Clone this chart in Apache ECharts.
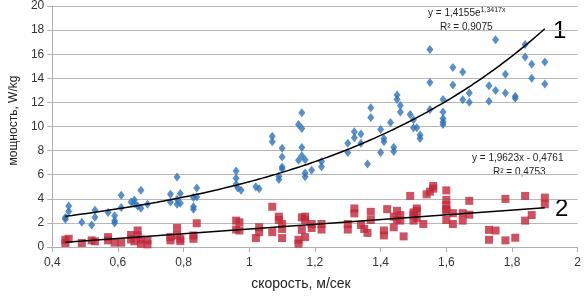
<!DOCTYPE html>
<html>
<head>
<meta charset="utf-8">
<script src="https://cdn.jsdelivr.net/npm/echarts@6/dist/echarts.min.js"></script>
<style>
  html, body { margin: 0; padding: 0; background: #fff; }
  #chart { width: 584px; height: 296px; }
</style>
</head>
<body>
<div id="chart"></div>
<script>
// series 1 (blue diamonds)
var blueX = [0.44, 0.44, 0.45, 0.45, 0.49, 0.52, 0.53, 0.53, 0.57, 0.59, 0.59, 0.59, 0.61, 0.61, 0.64, 0.65, 0.65, 0.66, 0.67, 0.67,
  0.69, 0.76, 0.76, 0.78, 0.78, 0.78, 0.79, 0.79, 0.83, 0.83, 0.83, 0.84, 0.84, 0.96, 0.96, 0.96, 0.965, 0.975, 1.02, 1.03,
  1.07, 1.07, 1.09, 1.09, 1.10, 1.10, 1.10, 1.10, 1.15, 1.16, 1.16, 1.16, 1.16, 1.15, 1.17, 1.17, 1.17, 1.19, 1.22, 1.22,
  1.30, 1.30, 1.32, 1.32, 1.34, 1.34, 1.36, 1.37, 1.37, 1.40, 1.40, 1.41, 1.41, 1.43, 1.44, 1.44, 1.45, 1.45, 1.46, 1.46,
  1.49, 1.50, 1.50, 1.51, 1.52, 1.52, 1.55, 1.55, 1.55, 1.59, 1.59, 1.59, 1.59, 1.59, 1.62, 1.62, 1.65, 1.65, 1.67, 1.67,
  1.73, 1.73, 1.75, 1.75, 1.78, 1.78, 1.81, 1.81, 1.84, 1.84, 1.86, 1.86, 1.90, 1.90];
var blueY = [2.45, 2.3, 2.95, 3.4, 2.05, 1.83, 2.46, 3.06, 2.87, 2.6, 2.18, 2.0, 3.28, 4.3, 3.74, 3.9, 3.6, 3.4, 4.7, 3.22,
  3.55, 4.37, 3.74, 5.8, 3.96, 3.55, 4.45, 3.63, 4.1, 3.33, 3.14, 4.9, 4.15, 6.3, 5.7, 5.2, 4.9, 4.7, 5.0, 4.84,
  9.2, 8.74, 5.87, 5.6, 8.2, 7.46, 6.64, 6.48, 10.16, 11.15, 9.84, 8.25, 7.57, 7.19, 7.24, 6.15, 5.82, 6.37, 7.1, 6.67,
  8.6, 7.84, 9.56, 9.07, 9.37, 8.6, 6.89, 11.56, 10.74, 9.75, 7.84, 9.0, 8.74, 10.33, 8.28, 7.92, 12.62, 12.24, 11.75, 11.2,
  11.0, 10.57, 9.89, 9.89, 9.3, 9.0, 16.4, 13.66, 11.42, 12.24, 11.2, 10.66, 10.38, 10.16, 14.9, 13.44, 14.53, 12.21, 12.79, 12.02,
  13.39, 12.1, 17.2, 12.98, 14.34, 12.79, 12.51, 12.35, 16.8, 15.76, 15.16, 14.0, 15.35, 13.52];

// series 2 (red squares)
var redX = [0.44, 0.44, 0.45, 0.49, 0.52, 0.53, 0.57, 0.57, 0.59, 0.61, 0.64, 0.64, 0.65, 0.66, 0.66, 0.67, 0.67, 0.69, 0.69, 0.76,
  0.76, 0.78, 0.78, 0.79, 0.79, 0.83, 0.83, 0.84, 0.96, 0.97, 0.96, 0.97, 1.03, 1.02, 1.03, 1.07, 1.07, 1.09, 1.09, 1.10,
  1.10, 1.10, 1.15, 1.15, 1.16, 1.17, 1.16, 1.17, 1.17, 1.19, 1.19, 1.22, 1.22, 1.30, 1.30, 1.32, 1.32, 1.34, 1.35, 1.36,
  1.37, 1.37, 1.41, 1.41, 1.42, 1.44, 1.44, 1.45, 1.45, 1.46, 1.46, 1.47, 1.49, 1.50, 1.50, 1.51, 1.51, 1.50, 1.51, 1.53,
  1.54, 1.55, 1.56, 1.56, 1.60, 1.60, 1.60, 1.60, 1.60, 1.60, 1.62, 1.62, 1.65, 1.65, 1.67, 1.67, 1.73, 1.73, 1.75, 1.78,
  1.78, 1.81, 1.84, 1.84, 1.86, 1.90, 1.90];
var redY = [0.33, 0.6, 0.68, 0.33, 0.55, 0.47, 0.82, 0.55, 0.36, 0.36, 1.0, 0.63, 0.47, 1.37, 0.96, 0.63, 0.27, 0.55, 0.22, 0.82,
  0.55, 1.58, 0.96, 0.49, 0.68, 0.68, 0.96, 1.97, 2.19, 2.05, 1.45, 1.37, 1.64, 0.74, 1.23, 3.34, 1.23, 2.52, 2.24, 1.91,
  1.5, 0.74, 0.6, 0.27, 2.46, 2.52, 1.42, 0.82, 2.24, 1.91, 1.58, 1.91, 1.45, 1.91, 1.45, 3.2, 2.79, 1.83, 1.5, 1.17,
  2.92, 2.24, 1.37, 0.96, 3.14, 1.64, 2.52, 2.27, 3.0, 2.65, 2.19, 0.88, 4.24, 2.87, 2.65, 3.0, 3.2, 2.19, 2.38, 1.91,
  4.37, 4.59, 5.06, 4.84, 4.7, 3.91, 3.47, 3.14, 3.0, 2.24, 2.81, 1.91, 2.81, 2.19, 3.83, 2.68, 1.42, 0.6, 1.37, 3.99,
  0.55, 0.77, 4.24, 2.19, 2.65, 4.1, 3.55];

// trend lines from the equations printed on the chart
var expA = 1.4155, expB = 1.3417;
var linA = 1.9623, linB = -0.4761;
var trendFrom = 0.44, trendTo = 1.9;

var yTicks = { min: 0, max: 20, interval: 2 };
var xTicks = { min: 0.4, max: 2, interval: 0.2 };

function pairs(xs, ys) {
  var out = [];
  for (var i = 0; i < xs.length; i++) out.push([xs[i], ys[i]]);
  return out;
}

var expLine = [];
for (var k = 0; k <= 73; k++) {
  var xv = trendFrom + (trendTo - trendFrom) * k / 73;
  expLine.push([xv, expA * Math.exp(expB * xv)]);
}
var linLine = [[trendFrom, linA * trendFrom + linB], [trendTo, linA * trendTo + linB]];

var font = 'Liberation Sans, Arial, sans-serif';
var chart = echarts.init(document.getElementById('chart'));
var option = {
  animation: false,
  textStyle: { fontFamily: font },
  grid: { left: 41, right: 6, top: 6, bottom: 46 },
  xAxis: {
    type: 'value',
    min: xTicks.min, max: xTicks.max, interval: xTicks.interval,
    name: 'скорость, м/сек',
    nameLocation: 'middle',
    nameGap: 30,
    nameTextStyle: { fontSize: 14, color: '#222', padding: [0, 28, 0, 0] },
    axisLine: { lineStyle: { color: '#b0b0b0' } },
    axisTick: { show: true, length: 5, lineStyle: { color: '#b0b0b0' } },
    axisLabel: {
      fontSize: 12, color: '#333', margin: 10,
      formatter: function (v) { return String(Math.round(v * 10) / 10).replace('.', ','); }
    },
    splitLine: { show: false }
  },
  yAxis: {
    type: 'value',
    min: yTicks.min, max: yTicks.max, interval: yTicks.interval,
    name: 'мощность, W/kg',
    nameLocation: 'middle',
    nameGap: 26,
    nameTextStyle: { fontSize: 12, color: '#222', padding: [0, 0, 0, 12] },
    axisLine: { show: true, lineStyle: { color: '#b0b0b0' } },
    axisTick: { show: true, length: 5, lineStyle: { color: '#b0b0b0' } },
    axisLabel: { fontSize: 12, color: '#333', margin: 8 },
    splitLine: { lineStyle: { color: '#b8b8b8', width: 1 } }
  },
  series: [
    {
      name: '1',
      type: 'scatter',
      symbol: 'diamond',
      symbolSize: [7, 9],
      itemStyle: { color: '#2f72b8' },
      data: pairs(blueX, blueY)
    },
    {
      name: '2',
      type: 'scatter',
      symbol: 'rect',
      symbolSize: 8,
      itemStyle: { color: '#c1283b' },
      data: pairs(redX, redY)
    },
    {
      type: 'line',
      showSymbol: false,
      smooth: true,
      lineStyle: { color: '#000', width: 1.5 },
      data: expLine
    },
    {
      type: 'line',
      showSymbol: false,
      lineStyle: { color: '#000', width: 1.5 },
      data: linLine
    }
  ],
  graphic: [
    {
      type: 'text', left: 428, top: 7,
      style: {
        text: '{a|y = 1,4155e}{s|1,3417x}',
        rich: { a: { fontSize: 10, fill: '#222', fontFamily: font }, s: { fontSize: 7, fill: '#222', fontFamily: font, padding: [0, 0, 6, 0] } }
      }
    },
    { type: 'text', left: 440, top: 22, style: { text: 'R² = 0,9075', fontSize: 10, fill: '#222', fontFamily: font } },
    { type: 'text', left: 553, top: 19, style: { text: '1', fontSize: 24, fill: '#000', fontFamily: font } },
    { type: 'text', left: 472, top: 153, style: { text: 'y = 1,9623x - 0,4761', fontSize: 10, fill: '#222', fontFamily: font } },
    { type: 'text', left: 493, top: 167, style: { text: 'R² = 0,4753', fontSize: 10, fill: '#222', fontFamily: font } },
    { type: 'text', left: 555, top: 197, style: { text: '2', fontSize: 24, fill: '#000', fontFamily: font } }
  ]
};
chart.setOption(option);
</script>
</body>
</html>
